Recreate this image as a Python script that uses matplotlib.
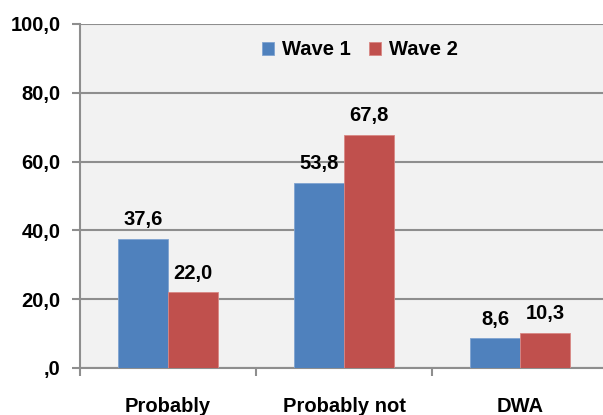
import matplotlib
matplotlib.use("Agg")
import matplotlib.pyplot as plt
import numpy as np

categories = ["Probably", "Probably not", "DWA"]
wave1 = [37.6, 53.8, 8.6]
wave2 = [22.0, 67.8, 10.3]
series_names = ["Wave 1", "Wave 2"]
yticks = [0, 20, 40, 60, 80, 100]

plt.rcParams['font.family'] = ['Liberation Sans', 'DejaVu Sans']
plt.rcParams['font.weight'] = 'bold'

blue = "#4F81BD"
red = "#C0504D"
grid_col = "#8E8E8E"
fs = 14.5

fig = plt.figure(figsize=(6.03, 4.15), dpi=100)
W, H = 603, 415
left, right, top, bottom = 80, 608, 24, 368
ax = fig.add_axes([left / W, 1 - bottom / H, (right - left) / W, (bottom - top) / H])
ax.set_facecolor("#F2F2F2")

x = np.arange(len(categories))
bw = 0.284
b1 = ax.bar(x - bw / 2, wave1, bw, color=blue, edgecolor="#7FA3D0", linewidth=0.6,
            label=series_names[0], zorder=3)
b2 = ax.bar(x + bw / 2, wave2, bw, color=red, edgecolor="#D88784", linewidth=0.6,
            label=series_names[1], zorder=3)

def fmt(v):
    return f"{v:.1f}".replace(".", ",")

for bars, vals in ((b1, wave1), (b2, wave2)):
    for rect, v in zip(bars, vals):
        ax.annotate(fmt(v), (rect.get_x() + rect.get_width() / 2, v),
                    xytext=(0, 7), textcoords="offset points",
                    ha="center", va="bottom", fontsize=fs, fontweight="bold")

ax.set_xlim(-0.5, 2.5)
ax.set_ylim(0, 100)
ax.set_yticks(yticks)
ax.set_yticklabels([",0" if t == 0 else fmt(t) for t in yticks],
                   fontsize=fs, fontweight="bold")
ax.yaxis.grid(True, color=grid_col, linewidth=1.5, zorder=0)
ax.set_axisbelow(True)

ax.set_xticks(x)
ax.set_xticklabels(categories, fontsize=fs, fontweight="bold")
ax.tick_params(axis="x", length=0, pad=21)
ax.set_xticks([-0.5, 0.5, 1.5, 2.5], minor=True)
ax.tick_params(axis="x", which="minor", length=6, width=1.5, color=grid_col)
ax.tick_params(axis="y", length=6, width=1.5, color=grid_col, pad=8)

for side in ("top", "right"):
    ax.spines[side].set_visible(False)
ax.spines["left"].set_color(grid_col)
ax.spines["left"].set_linewidth(1.5)
ax.spines["bottom"].set_color(grid_col)
ax.spines["bottom"].set_linewidth(1.5)

leg = ax.legend(loc="upper center", bbox_to_anchor=(0.53, 1.005), ncol=2, frameon=False,
                prop={"size": fs, "weight": "bold"}, handlelength=0.6, handleheight=0.6,
                handletextpad=0.4, columnspacing=0.9)

fig.savefig("out.png", dpi=100)
